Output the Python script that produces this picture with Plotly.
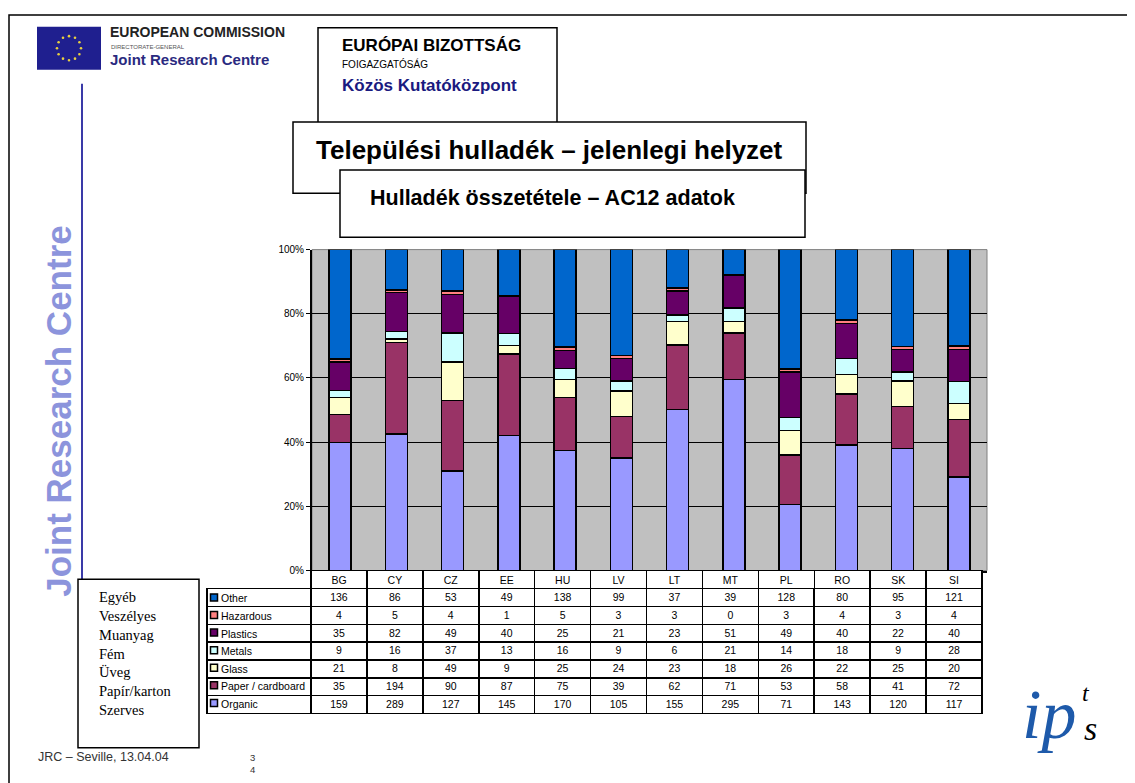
import math
import plotly.graph_objects as go

# mapping from reference-picture pixels to figure pixels (page offset of the figure)
OX, OY, SY = 8, 14.4, 0.983
FW, FH = 1127, 783

countries = ["BG", "CY", "CZ", "EE", "HU", "LV", "LT", "MT", "PL", "RO", "SK", "SI"]
organic = [159, 289, 127, 145, 170, 105, 155, 295, 71, 143, 120, 117]
paper = [35, 194, 90, 87, 75, 39, 62, 71, 53, 58, 41, 72]
glass = [21, 8, 49, 9, 25, 24, 23, 18, 26, 22, 25, 20]
metals = [9, 16, 37, 13, 16, 9, 6, 21, 14, 18, 9, 28]
plastics = [35, 82, 49, 40, 25, 21, 23, 51, 49, 40, 22, 40]
hazardous = [4, 5, 4, 1, 5, 3, 3, 0, 3, 4, 3, 4]
other = [136, 86, 53, 49, 138, 99, 37, 39, 128, 80, 95, 121]

series_names = ["Organic", "Paper / cardboard", "Glass", "Metals", "Plastics", "Hazardous", "Other"]
series_vals = [organic, paper, glass, metals, plastics, hazardous, other]
series_colors = ["#9999FF", "#993366", "#FFFFCC", "#CCFFFF", "#660066", "#FF8080", "#0066CC"]
hu_labels = ["Egyéb", "Veszélyes", "Muanyag", "Fém", "Üveg", "Papír/karton", "Szerves"]
ytick_vals = [0, 20, 40, 60, 80, 100]


def X(px):
    return (px - OX) / FW


def Y(py):
    return 1 - ((py - OY) / SY) / FH


def HPX(h):
    return h / SY


SANS = "Liberation Sans, Arial, sans-serif"
SERIF = "Liberation Serif, Times New Roman, serif"

# layout geometry (reference pixels)
PL, PR, PT, PB = 312, 987, 249.3, 569.3
TL, TR = 311, 982
LBL_L = 207
ROW_H = 17.53
BODY_T = 587.3
TXT_UP_HDR = 2.0   # table text sits low in plotly cells; lift the text layer
TXT_UP_BODY = 3.5

fig = go.Figure()

for name, vals, col in zip(series_names, series_vals, series_colors):
    fig.add_trace(go.Bar(
        x=countries, y=vals, name=name, width=0.39,
        marker=dict(color=col, line=dict(color="black", width=1.5)),
        showlegend=False, hoverinfo="skip",
    ))

tfont = dict(family=SANS, size=10.5, color="black")
tline = dict(color="black", width=1.5)
noline = dict(color="rgba(0,0,0,0)", width=0)
clear = dict(color="rgba(0,0,0,0)")
n = len(countries)

# ---- country header row: grid layer + text layer
fig.add_trace(go.Table(
    domain=dict(x=[X(TL), X(TR)], y=[Y(PB + 30), Y(PB)]),
    columnwidth=[1] * n,
    header=dict(values=[""] * n, height=HPX(18), fill=dict(color="white"), line=tline, font=tfont),
    cells=dict(values=[[] for _ in countries]),
))
fig.add_trace(go.Table(
    domain=dict(x=[X(TL), X(TR)], y=[Y(PB + 30), Y(PB - TXT_UP_HDR)]),
    columnwidth=[1] * n,
    header=dict(values=countries, height=HPX(18), align="center", fill=clear, line=noline, font=tfont),
    cells=dict(values=[[] for _ in countries]),
))

# ---- body: label column + value columns (first row "Other" carried in the header row)
rows_top_down = list(reversed(range(len(series_names))))
col_values = [[""] * len(rows_top_down)] + \
    [[series_vals[i][c] for i in rows_top_down] for c in range(n)]
widths = [TL - LBL_L] + [(TR - TL) / n] * n
aligns = ["left"] + ["center"] * n

fig.add_trace(go.Table(
    domain=dict(x=[X(LBL_L), X(TR)], y=[Y(BODY_T + ROW_H * 8), Y(BODY_T)]),
    columnwidth=widths,
    header=dict(values=[""] * (n + 1), height=HPX(ROW_H), fill=dict(color="white"), line=tline,
                font=tfont),
    cells=dict(values=[[""] * (len(rows_top_down) - 1) for _ in range(n + 1)], height=HPX(ROW_H),
               fill=dict(color="white"), line=tline, font=tfont),
))
fig.add_trace(go.Table(
    domain=dict(x=[X(LBL_L), X(TR)], y=[Y(BODY_T + ROW_H * 8), Y(BODY_T - TXT_UP_BODY)]),
    columnwidth=widths,
    header=dict(values=[cv[0] for cv in col_values], height=HPX(ROW_H), align=aligns,
                fill=clear, line=noline, font=tfont),
    cells=dict(values=[cv[1:] for cv in col_values], height=HPX(ROW_H), align=aligns,
               fill=clear, line=noline, font=tfont),
))

shapes = []
annotations = []


def txt(x, y, s, size, color="black", family=SANS, xanchor="left", yanchor="middle", angle=0,
        align="left"):
    annotations.append(dict(xref="paper", yref="paper", x=X(x), y=Y(y), text=s, showarrow=False,
                            xanchor=xanchor, yanchor=yanchor, textangle=angle, align=align,
                            font=dict(family=family, size=size, color=color)))


# outer slide frame (left and top edges visible)
shapes.append(dict(type="rect", xref="paper", yref="paper", x0=1 / FW, x1=1.2, y0=-0.2, y1=1 - 1 / FH,
                   line=dict(color="black", width=1.5), layer="below"))

# plot-area border (grey, like Excel)
shapes.append(dict(type="rect", xref="x domain", yref="y domain", x0=0, x1=1, y0=0, y1=1,
                   line=dict(color="#808080", width=1), layer="below"))

# legend keys + labels in the table label cells
for k, i in enumerate(rows_top_down):
    cy = BODY_T + (k + 0.5) * ROW_H
    shapes.append(dict(type="rect", xref="paper", yref="paper",
                       x0=X(LBL_L + 3.5), x1=X(LBL_L + 10.5), y0=Y(cy + 3.5), y1=Y(cy - 3.5),
                       fillcolor=series_colors[i], line=dict(color="black", width=1.5)))
    txt(LBL_L + 11.5, cy + 1, series_names[i], 10.5, "black", SANS)

# EU flag logo
shapes.append(dict(type="rect", xref="paper", yref="paper", x0=X(37), x1=X(101), y0=Y(70), y1=Y(27),
                   fillcolor="#1F1F8F", line=dict(width=0)))
for s in range(12):
    a = 2 * math.pi * s / 12
    cx, cy = 69 + 12 * math.cos(a), 48.5 + 12 * math.sin(a)
    shapes.append(dict(type="circle", xref="paper", yref="paper", x0=X(cx - 1.3), x1=X(cx + 1.3),
                       y0=Y(cy + 1.3), y1=Y(cy - 1.3), fillcolor="#E8D040", line=dict(width=0)))
# vertical blue rule
shapes.append(dict(type="line", xref="paper", yref="paper", x0=X(82), x1=X(82), y0=Y(84), y1=Y(578),
                   line=dict(color="#3A3AA8", width=2)))

# header boxes
shapes.append(dict(type="rect", xref="paper", yref="paper", x0=X(318), x1=X(557), y0=Y(124), y1=Y(28),
                   fillcolor="white", line=dict(color="black", width=1.5)))
shapes.append(dict(type="rect", xref="paper", yref="paper", x0=X(293), x1=X(806), y0=Y(193), y1=Y(122),
                   fillcolor="white", line=dict(color="black", width=1.5)))
shapes.append(dict(type="rect", xref="paper", yref="paper", x0=X(340), x1=X(805), y0=Y(237), y1=Y(170),
                   fillcolor="white", line=dict(color="black", width=1.5)))
# Hungarian legend box
shapes.append(dict(type="rect", xref="paper", yref="paper", x0=X(78), x1=X(199), y0=Y(746), y1=Y(578),
                   fillcolor="white", line=dict(color="black", width=1.5)))

txt(108, 32, "<b>EUROPEAN COMMISSION</b>", 14, "#222222", SANS)
txt(109, 47, "DIRECTORATE-GENERAL", 6, "#555555", SANS)
txt(108, 60, "<b>Joint Research Centre</b>", 15, "#2A2A80", SANS)

txt(59, 410, "<b>Joint Research Centre</b>", 35, "#8C94DC", SANS, xanchor="center", angle=-90)

txt(340, 46, "<b>EURÓPAI BIZOTTSÁG</b>", 17, "black", SANS)
txt(340, 64, "FOIGAZGATÓSÁG", 10, "black", SANS)
txt(340, 86, "<b>Közös Kutatóközpont</b>", 17, "#1A1A80", SANS)
txt(314, 150, "<b>Települési hulladék – jelenlegi helyzet</b>", 26, "black", SANS)
txt(368, 198, "<b>Hulladék összetétele – AC12 adatok</b>", 21.5, "black", SANS)

txt(97, 652, "<br>".join(hu_labels), 14.5, "black", SERIF, align="left")

txt(36, 755, "JRC – Seville, 13.04.04", 12.5, "#333333", SANS)
txt(252, 762, "3<br>4", 9.5, "#333333", SANS, xanchor="center", align="center")

# ipts logo
txt(1049, 713, "<i>ip</i>", 70, "#1E5AAA", SERIF, xanchor="center")
txt(1086, 691, "<i>t</i>", 24, "black", SERIF, xanchor="center")
txt(1090, 727, "<i>s</i>", 34, "black", SERIF, xanchor="center")

fig.update_layout(
    width=FW, height=FH,
    margin=dict(l=0, r=0, t=0, b=0),
    paper_bgcolor="white",
    plot_bgcolor="#C0C0C0",
    barmode="stack", barnorm="percent",
    xaxis=dict(domain=[X(PL), X(PR)], showticklabels=False, showgrid=False, zeroline=False,
               showline=True, linecolor="black", linewidth=2, mirror=False,
               categoryorder="array", categoryarray=countries),
    yaxis=dict(domain=[Y(PB), Y(PT)], range=[0, 100], tickvals=ytick_vals,
               ticktext=[f"{v}%" for v in ytick_vals], showgrid=True, gridcolor="black",
               gridwidth=1, zeroline=False, showline=True, linecolor="black", linewidth=2,
               ticks="outside", ticklen=4, tickcolor="black",
               tickfont=dict(family=SANS, size=10, color="black")),
    shapes=shapes,
    annotations=annotations,
    font=dict(family=SANS),
)

fig.write_html("out.html")
